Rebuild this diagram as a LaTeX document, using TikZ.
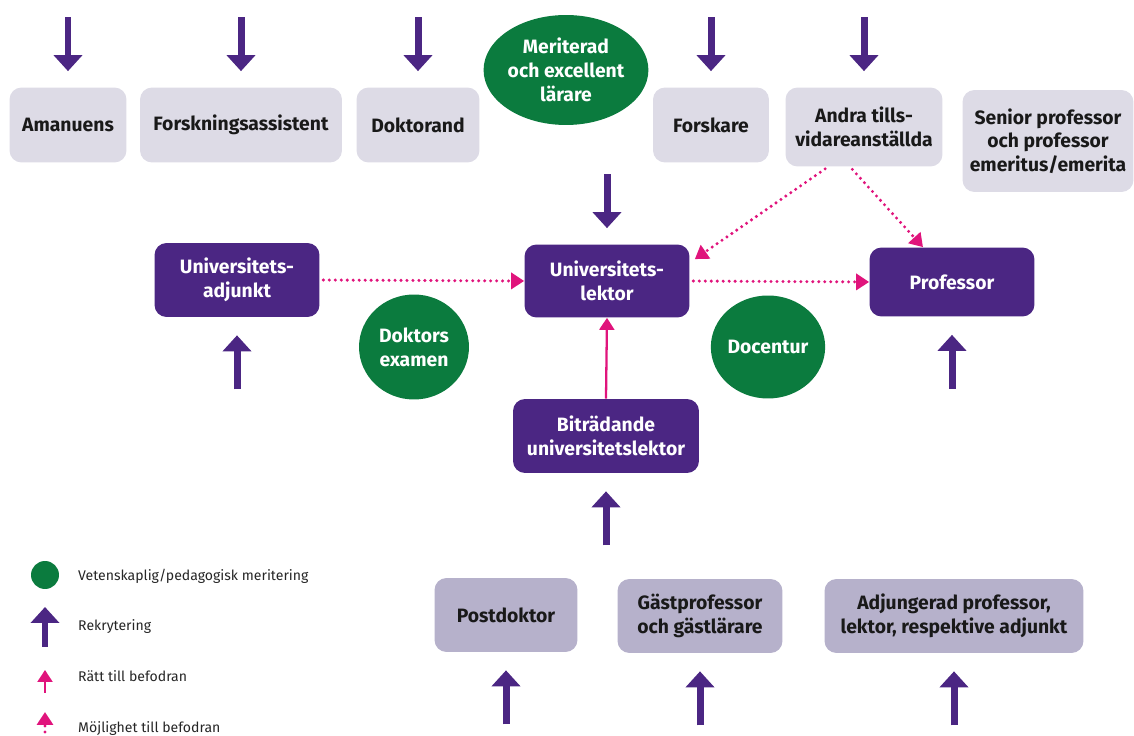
\documentclass[tikz,border=0pt]{standalone}
\usepackage{fontspec}
\setmainfont{Fira Sans}
\usetikzlibrary{arrows.meta,shapes.geometric}

\definecolor{lila}{HTML}{4B2683}
\definecolor{gron}{HTML}{0B7B3E}
\definecolor{rosa}{HTML}{E0147C}
\definecolor{ljusgra}{HTML}{DDDBE6}
\definecolor{mellangra}{HTML}{B6B1CB}

\tikzset{
  tjanst/.style={rectangle,rounded corners=0.24cm,fill=ljusgra,text=black!90,
    align=center,inner sep=2pt,font=\bfseries\fontsize{11}{13.5}\selectfont},
  gast/.style={tjanst,fill=mellangra},
  karriar/.style={tjanst,fill=lila,text=white},
  merit/.style={ellipse,fill=gron,text=white,align=center,inner sep=0pt,
    font=\bfseries\fontsize{11}{13.5}\selectfont},
  rekr/.style={draw=lila,line width=0.14cm,-{Triangle[width=0.56cm,length=0.32cm]}},
  ratt/.style={draw=rosa,line width=1.3pt,-{Triangle[width=0.3cm,length=0.24cm]}},
  mojl/.style={draw=rosa,line width=1.9pt,line cap=round,dash pattern=on 0pt off 3.4pt,
    -{Triangle[width=0.32cm,length=0.26cm]}},
  forklaring/.style={anchor=west,text=black!85,font=\fontsize{8}{10}\selectfont}
}

\begin{document}
\begin{tikzpicture}[x=0.02cm,y=-0.02cm]
  \useasboundingbox (0,0) rectangle (1134,736);

  \node[tjanst,minimum width=2.34cm,minimum height=1.5cm] (aman) at (68,125) {Amanuens};
  \node[tjanst,minimum width=4.04cm,minimum height=1.5cm] (fass) at (241,125) {Forskningsassistent};
  \node[tjanst,minimum width=2.46cm,minimum height=1.5cm] (dokt) at (418,125) {Doktorand};
  \node[merit,minimum width=2.88cm,minimum height=2.2cm] (exc) at (566,70) {Meriterad\\och excellent\\lärare};
  \node[tjanst,minimum width=2.32cm,minimum height=1.5cm] (forsk) at (711,125) {Forskare};
  \node[tjanst,minimum width=3.14cm,minimum height=1.58cm] (andra) at (864,127) {Andra tills-\\vidareanställda};
  \node[tjanst,minimum width=3.42cm,minimum height=2.04cm] (senior) at (1048,141) {Senior professor\\och professor\\emeritus/emerita};

  \node[karriar,minimum width=3.3cm,minimum height=1.48cm] (adj) at (237,280) {Universitets-\\adjunkt};
  \node[karriar,minimum width=3.3cm,minimum height=1.46cm] (lekt) at (607,281) {Universitets-\\lektor};
  \node[karriar,minimum width=3.3cm,minimum height=1.38cm] (prof) at (952,282) {Professor};
  \node[merit,minimum width=2.2cm,minimum height=2.1cm] (dr) at (414,347) {Doktors\\examen};
  \node[merit,minimum width=2.2cm,minimum height=2.06cm] (doc) at (768,347) {Docentur};
  \node[karriar,minimum width=3.72cm,minimum height=1.48cm] (bitr) at (606,436) {Biträdande\\universitetslektor};

  \node[gast,minimum width=2.86cm,minimum height=1.48cm] (post) at (506,615) {Postdoktor};
  \node[gast,minimum width=3.3cm,minimum height=1.48cm] (gprof) at (700,616) {Gästprofessor\\och gästlärare};
  \node[gast,minimum width=5.18cm,minimum height=1.48cm] (adjung) at (954,616) {Adjungerad professor,\\lektor, respektive adjunkt};

  \foreach \n in {aman,fass,dokt,forsk,andra,lekt}
  {\draw[rekr,shorten >=0.32cm] (\n.north) ++(0,-70) -- (\n.north);}
  \foreach \n in {adj,prof,bitr,post,gprof,adjung}
  {\draw[rekr,shorten >=0.36cm] (\n.south) ++(0,72) -- (\n.south);}

  \draw[mojl,shorten <=2pt] (adj.east) -- (lekt.west);
  \draw[mojl,shorten <=2pt] (lekt.east) -- (prof.west);
  \draw[mojl,shorten <=2pt] ([xshift=-0.72cm]andra.south) -- ([xshift=0.1cm,yshift=-0.3cm]lekt.north east);
  \draw[mojl,shorten <=2pt] ([xshift=-0.28cm]andra.south) -- ([xshift=-0.58cm]prof.north);
  \draw[ratt] (bitr.north) -- (lekt.south);

  \fill[gron] (45,575) circle (0.28cm);
  \node[forklaring] (t1) at (72,576) {Vetenskaplig/pedagogisk meritering};
  \draw[rekr] (45,647) -- (45,607);
  \node[forklaring] (t2) at (72,627) {Rekrytering};
  \draw[ratt] (45,693) -- (45,670);
  \node[forklaring] (t3) at (72,676) {Rätt till befodran};
  \draw[mojl] (45,738) -- (45,712);
  \node[forklaring] (t4) at (72,729) {Möjlighet till befodran};
\end{tikzpicture}
\end{document}
